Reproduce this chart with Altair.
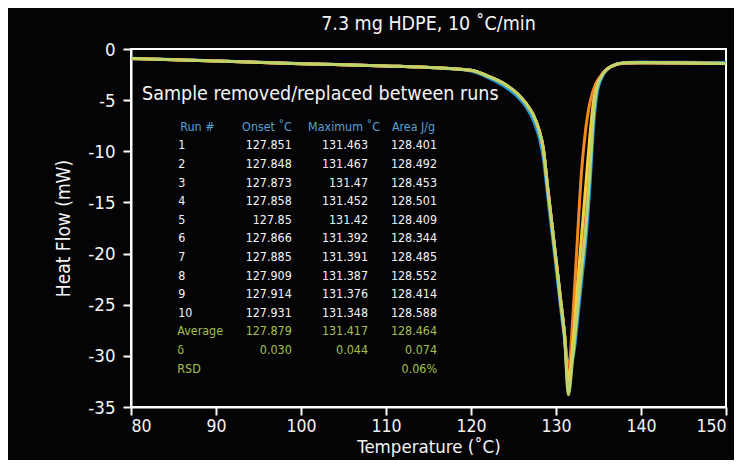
import altair as alt
import pandas as pd

# ---------------- data ----------------
temps = [80, 90, 100, 110, 116, 120, 122, 124, 125.5, 126.5, 127.3, 128, 128.5, 129,
         129.5, 130, 130.5, 131, 131.45, 132, 132.5, 133, 133.5, 134, 134.4, 134.8,
         135.4, 136.5, 138, 140, 145, 150]

run_blue = [-0.90, -1.16, -1.42, -1.65, -1.86, -2.15, -2.80, -3.70, -4.70, -5.70, -6.90,
            -8.60, -10.6, -14.2, -17.8, -21.3, -25.0, -28.3, -30.6, -30.1, -26.8, -22.8,
            -18.8, -13.3, -7.8, -4.5, -2.8, -1.72, -1.33, -1.28, -1.30, -1.32]
run_orange = [-0.93, -1.18, -1.43, -1.65, -1.84, -2.08, -2.65, -3.45, -4.4, -5.35, -6.4,
              -7.9, -9.7, -13.4, -17.0, -20.6, -24.2, -27.8, -31.5, -26.0, -18.8, -12.0,
              -7.8, -5.2, -4.0, -3.2, -2.5, -1.7, -1.38, -1.35, -1.38, -1.42]
run_purple = [-0.93, -1.18, -1.43, -1.65, -1.84, -2.08, -2.65, -3.45, -4.4, -5.35, -6.4,
              -7.9, -9.7, -13.4, -17.0, -20.6, -24.2, -27.9, -33.2, -29.2, -24.8, -20.3,
              -15.8, -10.4, -5.9, -3.7, -2.55, -1.7, -1.38, -1.35, -1.38, -1.42]
run_red = [-0.93, -1.18, -1.43, -1.65, -1.84, -2.08, -2.65, -3.45, -4.4, -5.35, -6.4,
           -7.9, -9.7, -13.4, -17.0, -20.6, -24.2, -27.9, -31.9, -28.0, -23.8, -19.0,
           -14.2, -9.0, -5.4, -3.6, -2.5, -1.7, -1.38, -1.35, -1.38, -1.42]
run_yellow = [-0.93, -1.18, -1.43, -1.65, -1.84, -2.08, -2.65, -3.45, -4.4, -5.35, -6.4,
              -7.9, -9.7, -13.4, -17.0, -20.6, -24.2, -27.9, -32.4, -28.4, -23.4, -18.4,
              -13.4, -8.4, -5.2, -3.6, -2.55, -1.7, -1.38, -1.35, -1.38, -1.42]
run_green = [-0.93, -1.18, -1.43, -1.65, -1.84, -2.08, -2.65, -3.45, -4.4, -5.35, -6.4,
             -7.9, -9.7, -13.4, -17.0, -20.6, -24.3, -28.0, -33.8, -29.9, -25.8, -21.6,
             -17.5, -11.8, -6.6, -3.9, -2.6, -1.7, -1.38, -1.35, -1.38, -1.42]

series_names = ["s1", "s2", "s3", "s4", "s5", "s6"]
series_values = [run_blue, run_orange, run_purple, run_red, run_yellow, run_green]
series_colors = ["#1e9bd7", "#f5891f", "#b67fc0", "#e0302a", "#f4cf3a", "#bcd46a"]

headers = ["Run #", "Onset ˚C", "Maximum ˚C", "Area J/g"]
run_labels = ["1", "2", "3", "4", "5", "6", "7", "8", "9", "10"]
onset = ["127.851", "127.848", "127.873", "127.858", "127.85", "127.866", "127.885",
         "127.909", "127.914", "127.931"]
maximum = ["131.463", "131.467", "131.47", "131.452", "131.42", "131.392", "131.391",
           "131.387", "131.376", "131.348"]
area = ["128.401", "128.492", "128.453", "128.501", "128.409", "128.344", "128.485",
        "128.552", "128.414", "128.588"]
summary_labels = ["Average", "δ", "RSD"]
summary_onset = ["127.879", "0.030", ""]
summary_max = ["131.417", "0.044", ""]
summary_area = ["128.464", "0.074", "0.06%"]

title_text = "7.3 mg HDPE, 10 ˚C/min"
note_text = "Sample removed/replaced between runs"

FONT = "DejaVu Sans Condensed"
WHITE = "#f4f4f4"
BLUE_T = "#5aa0cf"
GREEN_T = "#a6c04a"

# ---------------- curves ----------------
rows = []
for name, vals in zip(series_names, series_values):
    for t, v in zip(temps, vals):
        rows.append({"T": t, "HF": v, "run": name})
curves = pd.DataFrame(rows)

x_scale = alt.Scale(domain=[80, 150], nice=False, zero=False)
y_scale = alt.Scale(domain=[-35, 0], nice=False, zero=False)

lines = alt.Chart(curves).mark_line(strokeWidth=3, interpolate="monotone", clip=True).encode(
    x=alt.X("T:Q", scale=x_scale, title="Temperature (˚C)",
            axis=alt.Axis(values=list(range(80, 151, 10)))),
    y=alt.Y("HF:Q", scale=y_scale, title="Heat Flow (mW)",
            axis=alt.Axis(values=list(range(-35, 1, 5)), labelExpr="'' + datum.value")),
    color=alt.Color("run:N", scale=alt.Scale(domain=series_names, range=series_colors), legend=None),
)

# ---------------- table annotation ----------------
y_head = -8.0
step = -1.818
col_left_x = 85.55
col_right_x = [98.91, 107.88, 116.0]
col_head_x = [96.0, 105.06, 113.24]

left_items, right_items, center_items = [], [], []
left_items.append({"x": 85.8, "y": y_head, "text": headers[0], "c": BLUE_T})
for j in range(3):
    center_items.append({"x": col_head_x[j], "y": y_head, "text": headers[j + 1], "c": BLUE_T})
for i, lab in enumerate(run_labels):
    yy = y_head + step * (i + 1)
    left_items.append({"x": col_left_x, "y": yy, "text": lab, "c": WHITE})
    for j, col in enumerate([onset, maximum, area]):
        right_items.append({"x": col_right_x[j], "y": yy, "text": col[i], "c": WHITE})
for k, lab in enumerate(summary_labels):
    yy = y_head + step * (len(run_labels) + 1 + k)
    left_items.append({"x": col_left_x - 0.1, "y": yy, "text": lab, "c": GREEN_T})
    for j, col in enumerate([summary_onset, summary_max, summary_area]):
        if col[k]:
            right_items.append({"x": col_right_x[j], "y": yy, "text": col[k], "c": GREEN_T})


def text_layer(items, align, size, font=FONT):
    return alt.Chart(pd.DataFrame(items)).mark_text(
        align=align, baseline="alphabetic", font=font, fontSize=size
    ).encode(
        x=alt.X("x:Q", scale=x_scale),
        y=alt.Y("y:Q", scale=y_scale),
        text="text:N",
        color=alt.Color("c:N", scale=None),
    )


note = text_layer([{"x": 81.3, "y": -5.0, "text": note_text, "c": WHITE}], "left", 19.5)
t_left = text_layer(left_items, "left", 12.4)
t_right = text_layer(right_items, "right", 12.4)
t_center = text_layer(center_items, "center", 12.4)

chart = alt.layer(lines, note, t_left, t_right, t_center).properties(
    width=595,
    height=358,
    background="#040407",
    padding={"left": 123, "top": 41, "right": 8, "bottom": 53},
    autosize=alt.AutoSizeParams(type="none"),
    title=alt.TitleParams(title_text, font=FONT, fontSize=19.5,
                          fontWeight="normal", color=WHITE, anchor="middle", offset=6),
).configure_view(
    stroke="white", strokeWidth=2
).configure_axis(
    grid=False,
    domainColor="white", domainWidth=2,
    tickColor="white", tickWidth=2, tickSize=8,
    labelColor=WHITE, labelFont=FONT,
    titleColor=WHITE, titleFont=FONT, titleFontWeight="normal",
).configure_axisX(
    labelFontSize=17.5, labelPadding=2, titleFontSize=18.5, titlePadding=3
).configure_axisY(
    labelFontSize=18.5, titleFontSize=19, labelPadding=8, titlePadding=14
)

chart.save("out.html", embed_options={"renderer": "svg", "actions": False})
